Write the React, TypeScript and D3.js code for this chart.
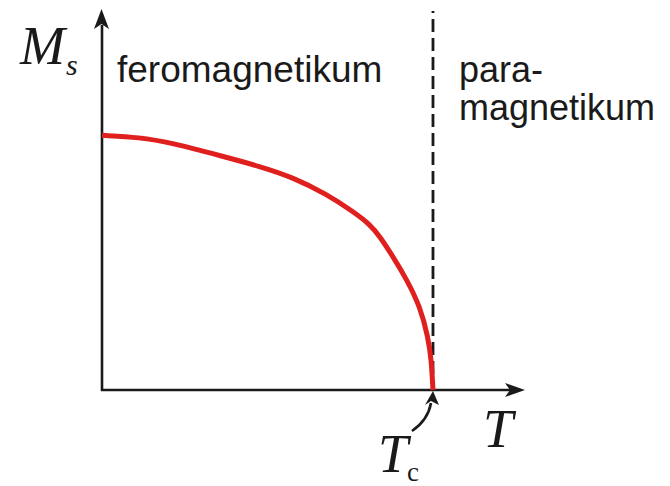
import React from 'react';
import * as d3 from 'd3';

// reduced temperature T/Tc and spontaneous magnetisation Ms/M0
const tempValues = [0, 0.115, 0.205, 0.366, 0.477, 0.577, 0.68, 0.758, 0.81, 0.84, 0.879, 0.921, 0.961, 0.985, 0.995, 1.0];
const magValues = [1, 0.992, 0.972, 0.917, 0.878, 0.835, 0.768, 0.701, 0.65, 0.602, 0.524, 0.433, 0.327, 0.209, 0.118, 0];
const curiePoint = 1.0;
const regionLabels = ['feromagnetikum', 'para-', 'magnetikum'];

const width = 670, height = 486;
const originX = 102, originY = 390;
const axisEndX = 525, axisTopY = 9;

const RED = '#e0201e';
const INK = '#1a1a1a';

const App = () => {
  const x = d3.scaleLinear().domain([0, 1.278]).range([originX, axisEndX]);
  const y = d3.scaleLinear().domain([0, 1.496]).range([originY, axisTopY]);

  const pts = tempValues.map((t, i) => [t, magValues[i]] as [number, number]);
  const line = d3.line<[number, number]>()
    .x(d => x(d[0]))
    .y(d => y(d[1]))
    .curve(d3.curveBasis);

  const xc = x(curiePoint);
  const serif = '"Liberation Serif", "Times New Roman", serif';
  const sans = '"Liberation Sans", Arial, sans-serif';

  return (
    <svg width={width} height={height} viewBox={`0 0 ${width} ${height}`}
      style={{ position: 'absolute', left: 0, top: 0, background: '#fff' }}>
      {/* dashed Curie line */}
      <line x1={xc} x2={xc} y1={axisTopY + 2} y2={originY} stroke={INK} strokeWidth={2.8}
        strokeDasharray="13,6" strokeDashoffset={11} />

      {/* y axis */}
      <line x1={originX} x2={originX} y1={originY + 1} y2={axisTopY + 16} stroke={INK} strokeWidth={2.6} />
      <path d={`M${originX - 0.5},${axisTopY} L${originX - 8},${axisTopY + 20} L${originX - 0.5},${axisTopY + 15} L${originX + 7},${axisTopY + 20} Z`} fill={INK} />

      {/* x axis */}
      <line x1={originX - 1} x2={axisEndX - 14} y1={originY} y2={originY} stroke={INK} strokeWidth={2.6} />
      <path d={`M${axisEndX},${originY} L${axisEndX - 20},${originY - 7} L${axisEndX - 15},${originY} L${axisEndX - 20},${originY + 7} Z`} fill={INK} />

      {/* magnetisation curve */}
      <path d={line(pts) || ''} fill="none" stroke={RED} strokeWidth={5} strokeLinecap="butt" />

      {/* Tc pointer */}
      <path d={`M${xc - 21},${originY + 41} Q${xc - 5},${originY + 30} ${xc - 2},${originY + 13}`} fill="none" stroke={INK} strokeWidth={2.6} />
      <path d={`M${xc},${originY + 1} L${xc - 8},${originY + 15} L${xc - 2},${originY + 11} L${xc + 6},${originY + 15} Z`} fill={INK} />

      {/* labels */}
      <text x={20} y={64} fontFamily={serif} fontStyle="italic" fontSize={54} fill={INK}>M</text>
      <text x={66} y={75} fontFamily={serif} fontStyle="italic" fontSize={30} fill={INK}>s</text>

      <text x={378} y={472} fontFamily={serif} fontStyle="italic" fontSize={54} fill={INK}>T</text>
      <text x={407} y={481} fontFamily={serif} fontSize={27} fill={INK}>c</text>
      <text x={483} y={447} fontFamily={serif} fontStyle="italic" fontSize={54} fill={INK}>T</text>

      <text x={117} y={82} fontFamily={sans} fontSize={37} fill={INK}>{regionLabels[0]}</text>
      <text x={459} y={82} fontFamily={sans} fontSize={36} fill={INK}>{regionLabels[1]}</text>
      <text x={459} y={120} fontFamily={sans} fontSize={36} fill={INK}>{regionLabels[2]}</text>
    </svg>
  );
};

export default App;
